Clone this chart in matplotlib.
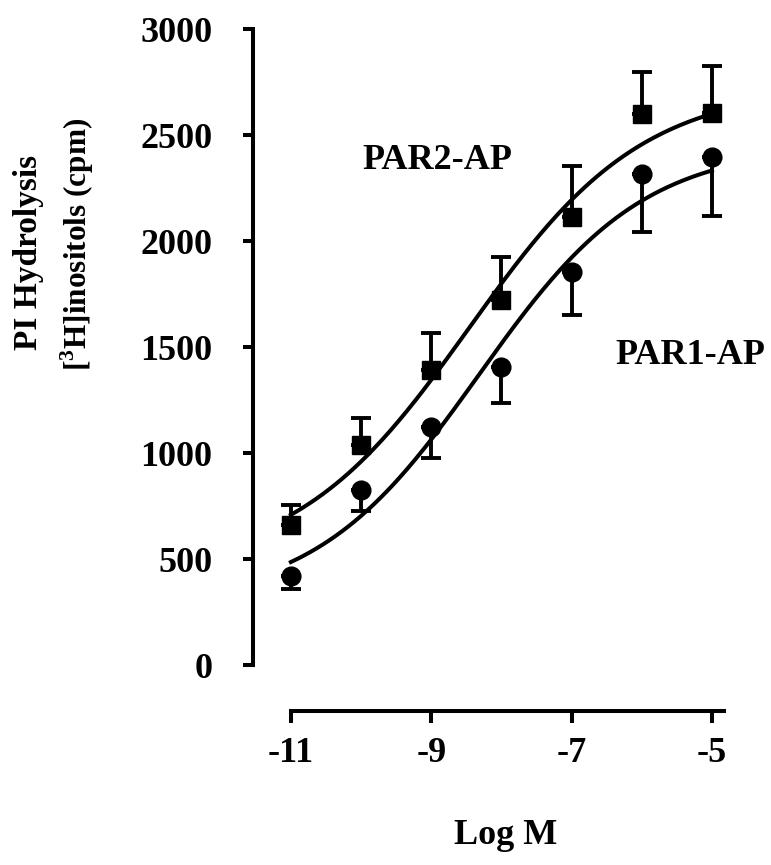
import matplotlib
matplotlib.use("Agg")
import matplotlib.pyplot as plt
import numpy as np

# concentration (log M) and responses
log_m = np.array([-11, -10, -9, -8, -7, -6, -5])
par2_mean = np.array([660, 1040, 1390, 1720, 2115, 2600, 2605])
par2_upper = np.array([755, 1165, 1566, 1925, 2354, 2797, 2825])
par1_mean = np.array([420, 825, 1123, 1406, 1854, 2316, 2396])
par1_lower = np.array([358, 726, 976, 1236, 1651, 2042, 2118])
# where the drawn fit curves pass at each concentration
par2_curve = np.array([698, 981, 1335, 1802, 2179, 2486, 2585])
par1_curve = np.array([481, 717, 1047, 1533, 1910, 2193, 2335])

yticks = [0, 500, 1000, 1500, 2000, 2500, 3000]
xticks = [-11, -9, -7, -5]


def fit_logistic(x, y):
    # 4-parameter logistic: grid over midpoint/slope, least squares for bottom/top
    best = None
    for m in np.arange(-10.5, -6.0, 0.02):
        for h in np.arange(0.3, 1.2, 0.01):
            f = 1 / (1 + 10 ** ((m - x) * h))
            A = np.column_stack([1 - f, f])
            coef = np.linalg.lstsq(A, y, rcond=None)[0]
            err = np.sum((A @ coef - y) ** 2)
            if best is None or err < best[0]:
                best = (err, m, h, coef)
    _, m, h, (bottom, top) = best
    return lambda xx: bottom + (top - bottom) / (1 + 10 ** ((m - xx) * h))


plt.rcParams['font.family'] = ['Liberation Serif', 'DejaVu Serif']
plt.rcParams['font.weight'] = 'bold'
plt.rcParams['mathtext.fontset'] = 'custom'
plt.rcParams['mathtext.bf'] = 'Liberation Serif:bold'
plt.rcParams['mathtext.rm'] = 'Liberation Serif:bold'

fig = plt.figure(figsize=(7.71, 8.65), dpi=100)
ax = fig.add_axes([253 / 771, 154 / 865, 494 / 771, 703 / 865])

xs = np.linspace(-11, -5, 200)
for c in [par2_curve, par1_curve]:
    curve = fit_logistic(log_m, c)
    ax.plot(xs, curve(xs), color='black', lw=2.9, zorder=2)

ax.errorbar(log_m, par2_mean, yerr=[np.zeros_like(par2_mean), par2_upper - par2_mean],
            fmt='none', ecolor='black', elinewidth=2.8, capsize=7.5, capthick=2.8, zorder=3)
ax.errorbar(log_m, par1_mean, yerr=[par1_mean - par1_lower, np.zeros_like(par1_mean)],
            fmt='none', ecolor='black', elinewidth=2.8, capsize=7.5, capthick=2.8, zorder=3)
ax.plot(log_m, par2_mean, 's', color='black', ms=13.5, zorder=4)
ax.plot(log_m, par1_mean, 'o', color='black', ms=13.5, zorder=4)

ax.text(-8.92, 2382, 'PAR2-AP', ha='center', va='center', fontsize=26, fontweight='bold')
ax.text(-5.31, 1462, 'PAR1-AP', ha='center', va='center', fontsize=26, fontweight='bold')

ax.set_xlim(-11.54, -4.5)
ax.set_ylim(-217, 3100)
ax.spines['top'].set_visible(False)
ax.spines['right'].set_visible(False)
ax.spines['left'].set_bounds(0, 3000)
ax.spines['bottom'].set_bounds(-11, -4.83)
for s in ['left', 'bottom']:
    ax.spines[s].set_linewidth(2.9)

ax.set_yticks(yticks)
ax.set_xticks(xticks)
ax.set_yticklabels([str(t) for t in yticks])
ax.set_xticklabels([str(t) for t in xticks])
ax.tick_params(axis='y', length=7.2, width=2.9, pad=22, labelsize=26)
ax.tick_params(axis='x', length=8.6, width=2.9, pad=10, labelsize=26)

fig.text(28 / 771, 1 - 252 / 865, 'PI Hydrolysis', rotation=90, ha='center', va='center',
         fontsize=24, fontweight='bold')
fig.text(77 / 771, 1 - 244 / 865, r'[$^{\mathbf{3}}$H]inositols (cpm)', rotation=90,
         ha='center', va='center', fontsize=22.5, fontweight='bold')
fig.text(506 / 771, 1 - 836 / 865, 'Log M', ha='center', va='center', fontsize=26,
         fontweight='bold')

fig.savefig('out.png', dpi=100)
